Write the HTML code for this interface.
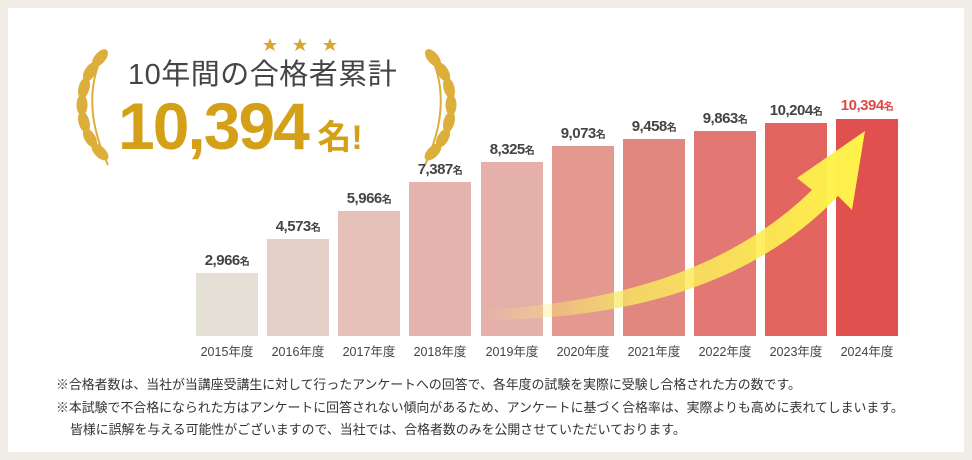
<!DOCTYPE html>
<html><head><meta charset="utf-8"><style>
body{margin:0;width:972px;height:460px;background:#f0ede6;font-family:"Liberation Sans","Noto Sans CJK JP",sans-serif;position:relative;overflow:hidden}
.card{position:absolute;left:8px;top:8px;width:956px;height:444px;background:#fff}
.bar{position:absolute;width:62px;bottom:124px}
.v{position:absolute;width:90px;text-align:center;font-size:15px;font-weight:bold;color:#444;letter-spacing:-0.5px}
.v small{font-size:10px}
.y{position:absolute;top:341px;width:80px;text-align:center;font-size:12.5px;color:#444}
.note{position:absolute;left:56px;font-size:12.9px;color:#333}
</style></head><body>
<div class="card"></div>
<svg width="972" height="460" style="position:absolute;left:0;top:0">
<g fill="#d9a730">
<path d="M270 38l2 5 5 0-4 3 2 5-5-3-5 3 2-5-4-3 5 0z"/>
<path d="M300 38l2 5 5 0-4 3 2 5-5-3-5 3 2-5-4-3 5 0z"/>
<path d="M330 38l2 5 5 0-4 3 2 5-5-3-5 3 2-5-4-3 5 0z"/>
</g>
<g fill="#dcae3a" stroke="#dcae3a">
<path d="M105 50 Q78 100 108 165" fill="none" stroke-width="2"/>
<ellipse cx="100" cy="58" rx="5" ry="10" transform="rotate(40 100 58)"/>
<ellipse cx="90" cy="72" rx="5" ry="10" transform="rotate(30 90 72)"/>
<ellipse cx="84" cy="88" rx="5" ry="10" transform="rotate(15 84 88)"/>
<ellipse cx="82" cy="105" rx="5" ry="10" transform="rotate(0 82 105)"/>
<ellipse cx="84" cy="122" rx="5" ry="10" transform="rotate(-15 84 122)"/>
<ellipse cx="90" cy="138" rx="5" ry="10" transform="rotate(-30 90 138)"/>
<ellipse cx="100" cy="152" rx="5" ry="10" transform="rotate(-45 100 152)"/>
<path d="M428 50 Q455 100 425 165" fill="none" stroke-width="2"/>
<ellipse cx="433" cy="58" rx="5" ry="10" transform="rotate(-40 433 58)"/>
<ellipse cx="443" cy="72" rx="5" ry="10" transform="rotate(-30 443 72)"/>
<ellipse cx="449" cy="88" rx="5" ry="10" transform="rotate(-15 449 88)"/>
<ellipse cx="451" cy="105" rx="5" ry="10"/>
<ellipse cx="449" cy="122" rx="5" ry="10" transform="rotate(15 449 122)"/>
<ellipse cx="443" cy="138" rx="5" ry="10" transform="rotate(30 443 138)"/>
<ellipse cx="433" cy="152" rx="5" ry="10" transform="rotate(45 433 152)"/>
</g>
</svg>
<div style="position:absolute;left:128px;top:51px;font-size:29px;color:#444;letter-spacing:0.5px">10年間の合格者累計</div>
<div style="position:absolute;left:118px;top:88px;font-size:66px;font-weight:bold;color:#d4a018;letter-spacing:-2px">10,394<span style="font-size:34px;letter-spacing:0"> 名!</span></div>

<div class="bar" style="left:196px;top:273px;background:#e4e0d6"></div>
<div class="bar" style="left:267px;top:239px;background:#e4d0c8"></div>
<div class="bar" style="left:338px;top:211px;background:#e4c0b8"></div>
<div class="bar" style="left:409px;top:182px;background:#e4b3ad"></div>
<div class="bar" style="left:481px;top:162px;background:#e5b0aa"></div>
<div class="bar" style="left:552px;top:146px;background:#e39890"></div>
<div class="bar" style="left:623px;top:139px;background:#e28680"></div>
<div class="bar" style="left:694px;top:131px;background:#e37774"></div>
<div class="bar" style="left:765px;top:123px;background:#e2655f"></div>
<div class="bar" style="left:836px;top:119px;background:#e0504e"></div>

<svg width="972" height="460" style="position:absolute;left:0;top:0">
<defs><linearGradient id="g" x1="480" y1="0" x2="860" y2="0" gradientUnits="userSpaceOnUse">
<stop offset="0" stop-color="#fff27a" stop-opacity="0"/><stop offset="0.4" stop-color="#f8e860" stop-opacity="0.8"/><stop offset="1" stop-color="#fff24a"/></linearGradient></defs>
<path d="M480 310 Q700 300 812 190 L797 178 L865 131 L852 210 L838 196 Q720 320 480 320 Z" fill="url(#g)"/>
</svg>

<div class="v" style="left:182px;top:252px">2,966<small>名</small></div>
<div class="v" style="left:253px;top:218px">4,573<small>名</small></div>
<div class="v" style="left:324px;top:190px">5,966<small>名</small></div>
<div class="v" style="left:395px;top:161px">7,387<small>名</small></div>
<div class="v" style="left:467px;top:141px">8,325<small>名</small></div>
<div class="v" style="left:538px;top:125px">9,073<small>名</small></div>
<div class="v" style="left:609px;top:118px">9,458<small>名</small></div>
<div class="v" style="left:680px;top:110px">9,863<small>名</small></div>
<div class="v" style="left:751px;top:102px">10,204<small>名</small></div>
<div class="v" style="left:822px;top:97px;color:#e04848">10,394<small>名</small></div>

<div class="y" style="left:187px">2015年度</div>
<div class="y" style="left:258px">2016年度</div>
<div class="y" style="left:329px">2017年度</div>
<div class="y" style="left:400px">2018年度</div>
<div class="y" style="left:472px">2019年度</div>
<div class="y" style="left:543px">2020年度</div>
<div class="y" style="left:614px">2021年度</div>
<div class="y" style="left:685px">2022年度</div>
<div class="y" style="left:756px">2023年度</div>
<div class="y" style="left:827px">2024年度</div>

<div class="note" style="top:374px">※合格者数は、当社が当講座受講生に対して行ったアンケートへの回答で、各年度の試験を実際に受験し合格された方の数です。</div>
<div class="note" style="top:397px">※本試験で不合格になられた方はアンケートに回答されない傾向があるため、アンケートに基づく合格率は、実際よりも高めに表れてしまいます。</div>
<div class="note" style="top:419px;left:70px">皆様に誤解を与える可能性がございますので、当社では、合格者数のみを公開させていただいております。</div>
</body></html>
